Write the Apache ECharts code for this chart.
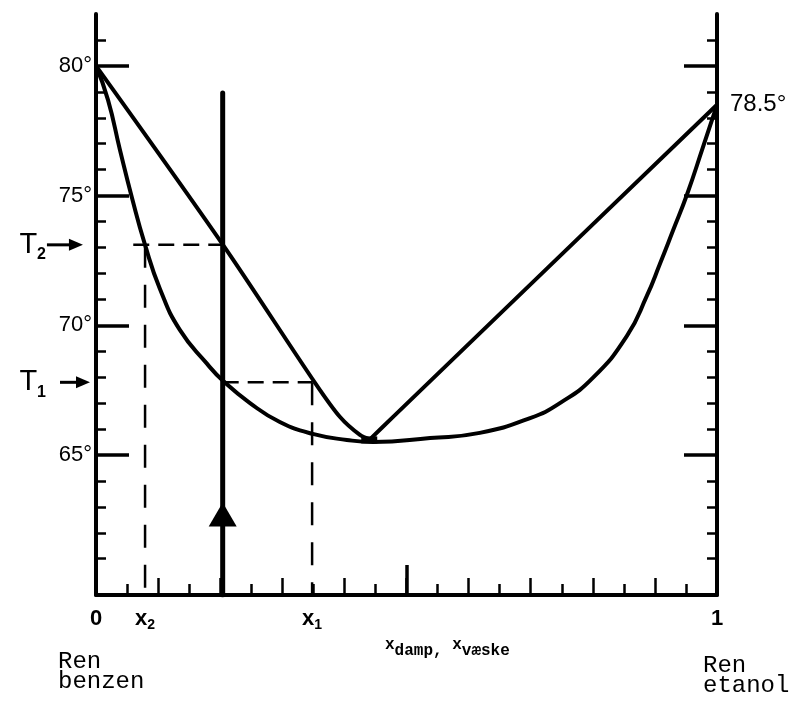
<!DOCTYPE html>
<html><head><meta charset="utf-8">
<script src="https://cdn.jsdelivr.net/npm/echarts@6/dist/echarts.min.js"></script>
<style>html,body{margin:0;padding:0;background:#fff}#c{width:800px;height:712px}</style>
</head><body><div id="c"></div>
<script>
// ---- data ----
const liquidCurve = [[0,80],[0.0193,78.69],[0.0386,76.76],[0.058,74.91],[0.079,73.1],[0.103,71.4],[0.135,69.82],[0.179,68.51],[0.2045,67.86],[0.248,67.0],[0.296,66.27],[0.349,65.81],[0.404,65.58],[0.446,65.5],[0.538,65.65],[0.618,65.85],[0.699,66.42],[0.747,67.0],[0.800,67.97],[0.855,69.59],[0.887,71.13],[0.908,72.36],[0.929,73.64],[0.952,75.06],[0.977,76.84],[1,78.5]];
const vaporLeft = [[0,80],[0.2045,73.1],[0.353,67.77],[0.393,66.46],[0.425,65.77],[0.441,65.6]];
const vaporRight = [[0.441,65.6],[0.478,66.46],[1,78.5]];
const azeotrope = [[0.44,65.58]];

const T1 = 67.8, T2 = 73.1;
const x1 = 0.348, x2 = 0.079, xHeat = 0.204;
const T2LineStart = 0.06;
const heatTop = 78.95;
const heatArrowT = 62.7;
// [x start, x end, T] for the T1/T2 pointer arrows (left of the axis)
const tArrows = [[-0.079,-0.021,T2],[-0.058,-0.0097,T1]];

const yMin = 59.6, yMax = 82;
const yMinorTicks = [61,62,63,64,66,67,68,69,71,72,73,74,76,77,78,79,81];
const yMajorTicks = [65,70,75,80];
const yMajorLabels = ['65°','70°','75°','80°'];
const rightLabelValues = [78.5];
const rightLabelTexts = ['78.5°'];
const tLabelValues = [T2, T1];
const tLabelSubs = ['2','1'];
const xLabelValues = [0, x2, x1, 1];
const xLabelMain = ['0','x','x','1'];
const xLabelSub = ['','2','1',''];
const xMajorTick = [0.5];

// ---- chart ----
const BLACK = '#000';
const FONT = '"Liberation Sans", Arial, sans-serif';
const MONO = '"Liberation Mono", "DejaVu Sans Mono", monospace';
function nearestIdx(arr, v){let b=0;for(let i=1;i<arr.length;i++){if(Math.abs(arr[i]-v)<Math.abs(arr[b]-v))b=i;}return b;}

const chart = echarts.init(document.getElementById('c'));
const noSplit = {splitLine:{show:false}, minorSplitLine:{show:false}};
const curveStyle = {color:BLACK,width:4};
const option = {
  backgroundColor:'#fff',
  animation:false,
  grid:{left:96,right:83,top:14,bottom:117},
  title:[
    {text:'Ren\nbenzen', left:53, top:647, textStyle:{fontFamily:MONO,fontSize:24,fontWeight:'normal',color:BLACK,lineHeight:20}},
    {text:'Ren\netanol', left:698, top:651, textStyle:{fontFamily:MONO,fontSize:24,fontWeight:'normal',color:BLACK,lineHeight:20}},
    {text:'{x|x}{s|damp, }{x|x}{s|væske}', left:380, top:632,
     textStyle:{rich:{
       x:{fontFamily:MONO,fontSize:16,fontWeight:'bold',color:BLACK,lineHeight:14,verticalAlign:'top'},
       s:{fontFamily:MONO,fontSize:16,fontWeight:'bold',color:BLACK,lineHeight:22,verticalAlign:'bottom'}
     }}}
  ],
  xAxis:[
    Object.assign({type:'value',min:0,max:1,interval:0.1,position:'bottom',
      axisLine:{lineStyle:{color:BLACK,width:4}},
      axisTick:{inside:true,length:17,lineStyle:{color:BLACK,width:2.5}},
      minorTick:{show:true,splitNumber:2,length:11,lineStyle:{color:BLACK,width:2.5}},
      axisLabel:{show:false}}, noSplit),
    Object.assign({type:'value',min:0,max:1,position:'bottom',
      axisLine:{show:false},
      axisTick:{show:true,inside:true,customValues:xMajorTick,length:30,lineStyle:{color:BLACK,width:3.5}},
      axisLabel:{customValues:xLabelValues, margin:11,
        formatter:function(v){const i=nearestIdx(xLabelValues,v);return '{m|'+xLabelMain[i]+'}'+(xLabelSub[i]?'{s|'+xLabelSub[i]+'}':'');},
        rich:{m:{fontFamily:FONT,fontSize:22,fontWeight:'bold',color:BLACK,lineHeight:26},
              s:{fontFamily:FONT,fontSize:14,fontWeight:'bold',color:BLACK,lineHeight:12,verticalAlign:'bottom'}}}}, noSplit)
  ],
  yAxis:[
    Object.assign({type:'value',min:yMin,max:yMax,position:'left',
      axisLine:{show:true,lineStyle:{color:BLACK,width:4}},
      axisTick:{show:true,inside:true,customValues:yMinorTicks,length:10,lineStyle:{color:BLACK,width:2.5}},
      axisLabel:{show:false}}, noSplit),
    Object.assign({type:'value',min:yMin,max:yMax,position:'left',
      axisLine:{show:false},
      axisTick:{show:true,inside:true,customValues:yMajorTicks,length:33,lineStyle:{color:BLACK,width:3.5}},
      axisLabel:{customValues:yMajorTicks,margin:4,fontFamily:FONT,fontSize:22,color:BLACK,
        formatter:function(v){return yMajorLabels[nearestIdx(yMajorTicks,v)];}}}, noSplit),
    Object.assign({type:'value',min:yMin,max:yMax,position:'left',
      axisLine:{show:false},axisTick:{show:false},
      axisLabel:{customValues:tLabelValues,margin:50,
        formatter:function(v){return '{t|T}{s|'+tLabelSubs[nearestIdx(tLabelValues,v)]+'}';},
        rich:{t:{fontFamily:FONT,fontSize:29,color:BLACK,lineHeight:36},
              s:{fontFamily:FONT,fontSize:16,fontWeight:'bold',color:BLACK,lineHeight:14,verticalAlign:'bottom'}}}}, noSplit),
    Object.assign({type:'value',min:yMin,max:yMax,position:'right',
      axisLine:{show:true,lineStyle:{color:BLACK,width:4}},
      axisTick:{show:true,inside:true,customValues:yMinorTicks,length:10,lineStyle:{color:BLACK,width:2.5}},
      axisLabel:{show:false}}, noSplit),
    Object.assign({type:'value',min:yMin,max:yMax,position:'right',
      axisLine:{show:false},
      axisTick:{show:true,inside:true,customValues:yMajorTicks,length:33,lineStyle:{color:BLACK,width:3.5}},
      axisLabel:{customValues:rightLabelValues,margin:13,fontFamily:FONT,fontSize:24,color:BLACK,
        formatter:function(v){return rightLabelTexts[nearestIdx(rightLabelValues,v)];}}}, noSplit)
  ],
  series:[
    {type:'line',data:liquidCurve,smooth:0.5,symbol:'none',lineStyle:curveStyle,z:5},
    {type:'line',data:vaporLeft,smooth:0.3,symbol:'none',lineStyle:curveStyle,z:5},
    {type:'line',data:vaporRight,smooth:0.2,symbol:'none',lineStyle:curveStyle,z:5},
    {type:'scatter',data:azeotrope,symbol:'rect',symbolSize:[16,7],itemStyle:{color:BLACK,opacity:1},z:6},
    {type:'line',data:[[T2LineStart,T2],[xHeat,T2]],symbol:'none',lineStyle:{color:BLACK,width:2.5,type:[16,9]}},
    {type:'line',data:[[x2,T2],[x2,yMin]],symbol:'none',lineStyle:{color:BLACK,width:2.5,type:[23,17]}},
    {type:'line',data:[[xHeat,T2],[xHeat,T1]],symbol:'none',lineStyle:{color:BLACK,width:3,type:[2,11],cap:'round'}},
    {type:'line',data:[[xHeat,T1],[x1,T1]],symbol:'none',lineStyle:{color:BLACK,width:2.5,type:[16,9]}},
    {type:'line',data:[[x1,T1],[x1,yMin]],symbol:'none',lineStyle:{color:BLACK,width:2.5,type:[23,17]}},
    {type:'line',data:[[xHeat,heatTop],[xHeat,yMin]],symbol:'none',lineStyle:{color:BLACK,width:5,cap:'round'},z:6},
    {type:'scatter',data:[[xHeat,heatArrowT]],symbol:'triangle',symbolSize:[28,24],itemStyle:{color:BLACK,opacity:1},z:7},
    {type:'custom',coordinateSystem:'cartesian2d',clip:false,data:tArrows,encode:{x:[0,1],y:2},
      renderItem:function(params, api){
        const p0 = api.coord([api.value(0), api.value(2)]);
        const p1 = api.coord([api.value(1), api.value(2)]);
        const head = 14, hw = 6;
        return {type:'group',children:[
          {type:'line',shape:{x1:p0[0],y1:p0[1],x2:p1[0]-head+2,y2:p1[1]},style:{stroke:BLACK,lineWidth:3}},
          {type:'polygon',shape:{points:[[p1[0],p1[1]],[p1[0]-head,p1[1]-hw],[p1[0]-head,p1[1]+hw]]},style:{fill:BLACK}}
        ]};
      }}
  ]
};
chart.setOption(option);
</script></body></html>
